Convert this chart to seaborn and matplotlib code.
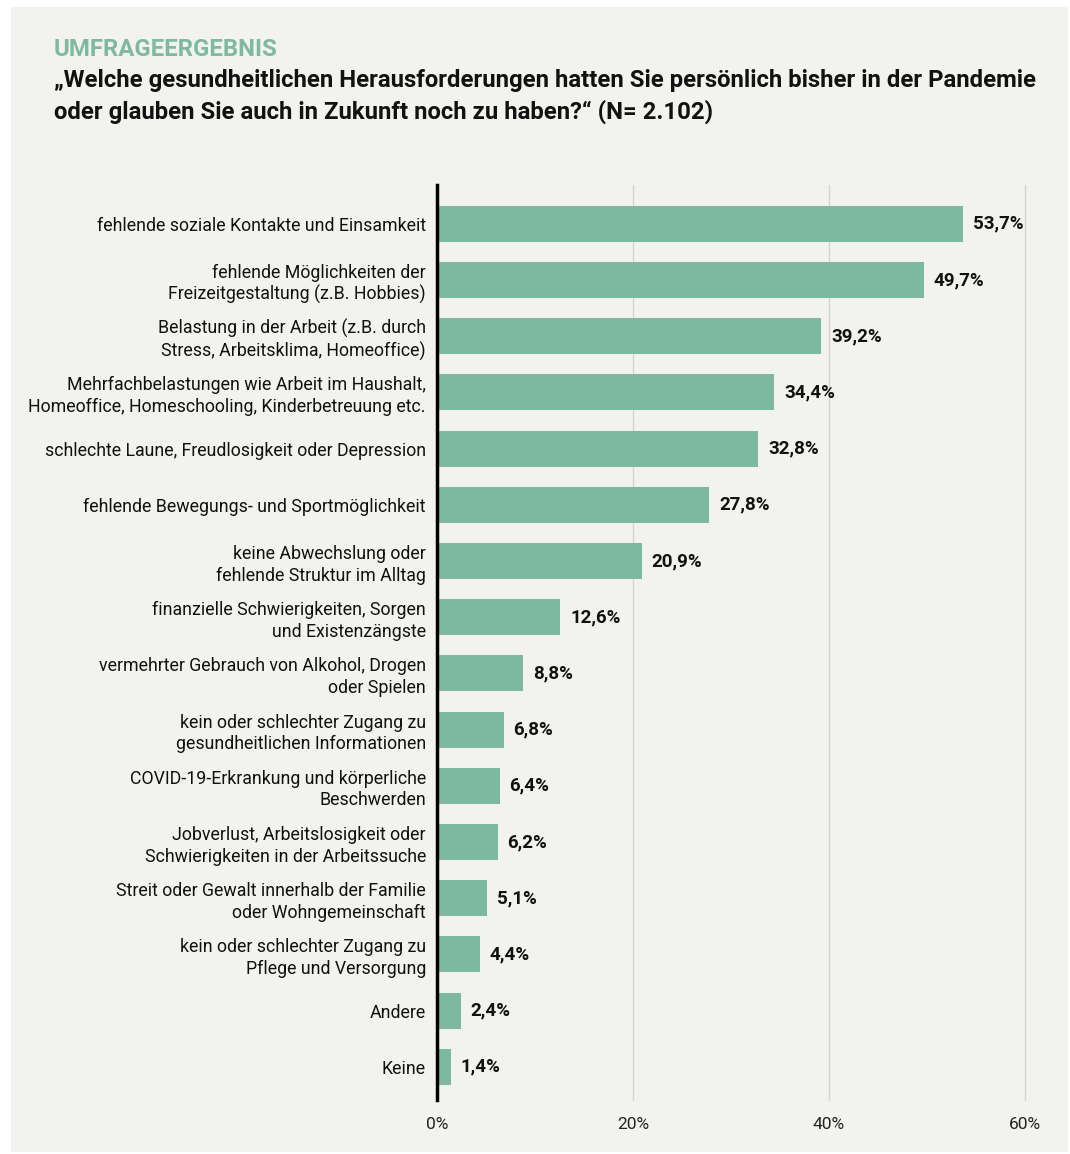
import matplotlib
matplotlib.use("Agg")
import matplotlib.pyplot as plt
import seaborn as sns
import pandas as pd
from matplotlib.patches import Rectangle

categories = [
    "fehlende soziale Kontakte und Einsamkeit",
    "fehlende Möglichkeiten der\nFreizeitgestaltung (z.B. Hobbies)",
    "Belastung in der Arbeit (z.B. durch\nStress, Arbeitsklima, Homeoffice)",
    "Mehrfachbelastungen wie Arbeit im Haushalt,\nHomeoffice, Homeschooling, Kinderbetreuung etc.",
    "schlechte Laune, Freudlosigkeit oder Depression",
    "fehlende Bewegungs- und Sportmöglichkeit",
    "keine Abwechslung oder\nfehlende Struktur im Alltag",
    "finanzielle Schwierigkeiten, Sorgen\nund Existenzängste",
    "vermehrter Gebrauch von Alkohol, Drogen\noder Spielen",
    "kein oder schlechter Zugang zu\ngesundheitlichen Informationen",
    "COVID-19-Erkrankung und körperliche\nBeschwerden",
    "Jobverlust, Arbeitslosigkeit oder\nSchwierigkeiten in der Arbeitssuche",
    "Streit oder Gewalt innerhalb der Familie\noder Wohngemeinschaft",
    "kein oder schlechter Zugang zu\nPflege und Versorgung",
    "Andere",
    "Keine",
]
values = [53.7, 49.7, 39.2, 34.4, 32.8, 27.8, 20.9, 12.6, 8.8, 6.8, 6.4, 6.2, 5.1, 4.4, 2.4, 1.4]
xticks = [0, 20, 40, 60]
xticklabels = ["0%", "20%", "40%", "60%"]

df = pd.DataFrame({"cat": categories, "val": values})

sns.set_theme(style="white")
plt.rcParams["font.family"] = ["Roboto", "DejaVu Sans"]

BG = "#f2f3ef"
BAR = "#7db9a1"

fig = plt.figure(figsize=(10.7, 11.54), dpi=100)
fig.patch.set_facecolor("white")
fig.patches.append(Rectangle((11 / 1070, 1 - 1152 / 1154), (1068 - 11) / 1070, (1152 - 7) / 1154,
                             transform=fig.transFigure, facecolor=BG, edgecolor="none", zorder=-10))

W, H = 1070, 1154
left, right, top, bottom = 437, 1025, 185, 1100
ax = fig.add_axes([left / W, 1 - bottom / H, (right - left) / W, (bottom - top) / H])
ax.set_facecolor(BG)

sns.barplot(data=df, x="val", y="cat", orient="h", color=BAR, width=0.64, ax=ax,
            saturation=1, linewidth=0, zorder=3)

ax.set_xlim(0, 60)
ax.set_ylim(15.59, -0.69)
ax.set_xticks(xticks)
ax.set_xticklabels(xticklabels, fontsize=12.5, color="#222222")
ax.xaxis.grid(True, color="#d4d4d2", linewidth=1, zorder=0)
for gl in ax.get_xgridlines():
    gl.set_clip_on(False)
ax.set_axisbelow(True)
ax.tick_params(axis="x", length=0, pad=12)
ax.tick_params(axis="y", length=0, pad=8)
for lab in ax.get_yticklabels():
    lab.set_fontsize(12.8)
    lab.set_color("#111111")
    lab.set_horizontalalignment("right")
    lab.set_multialignment("right")
    lab.set_linespacing(1.25)
ax.set_xlabel("")
ax.set_ylabel("")
for s in ["top", "right", "bottom"]:
    ax.spines[s].set_visible(False)
ax.spines["left"].set_color("black")
ax.spines["left"].set_linewidth(2.5)
ax.spines["left"].set_zorder(5)

for i, v in enumerate(values):
    ax.text(v + 1.0, i, f"{v:.1f}%".replace(".", ","), va="center", ha="left",
            fontsize=13.5, fontweight="bold", color="#111111")

fig.text(54 / W, 1 - 50 / H, "UMFRAGEERGEBNIS", fontsize=17.3, fontweight="bold", color="#7fbaa0",
         va="center", ha="left")
fig.text(54 / W, 1 - 81 / H,
         "„Welche gesundheitlichen Herausforderungen hatten Sie persönlich bisher in der Pandemie",
         fontsize=17.2, fontweight="bold", color="#111111", va="center", ha="left")
fig.text(54 / W, 1 - 112 / H,
         "oder glauben Sie auch in Zukunft noch zu haben?“ (N= 2.102)",
         fontsize=17.2, fontweight="bold", color="#111111", va="center", ha="left")

fig.savefig("out.png", dpi=100, facecolor=fig.get_facecolor())
